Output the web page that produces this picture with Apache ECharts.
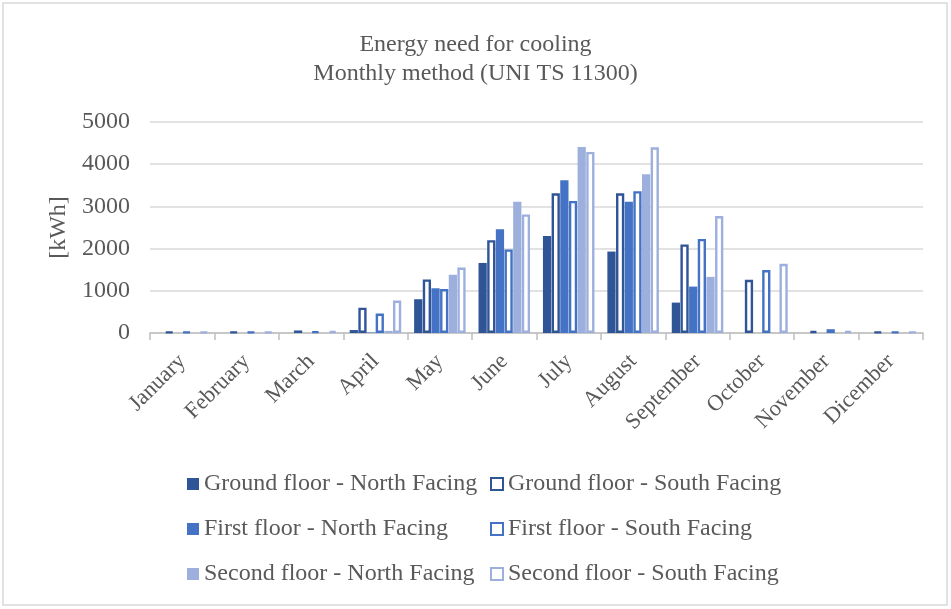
<!DOCTYPE html>
<html>
<head>
<meta charset="utf-8">
<script src="https://cdn.jsdelivr.net/npm/echarts@6/dist/echarts.min.js"></script>
<style>
  html, body { margin: 0; padding: 0; background: #ffffff; }
  #chart { width: 951px; height: 609px; }
</style>
</head>
<body>
<div id="chart"></div>
<script>
// Monthly cooling energy need per floor and orientation [kWh]
const months = ['January', 'February', 'March', 'April', 'May', 'June', 'July',
  'August', 'September', 'October', 'November', 'Dicember'];
const yTicks = [0, 1000, 2000, 3000, 4000, 5000];

const groundNorth = [0, 0, 0, 70, 800, 1660, 2300, 1930, 720, 0, 0, 0];
const groundSouth = [30, 30, 60, 600, 1270, 2200, 3310, 3310, 2100, 1260, 50, 30];
const firstNorth = [0, 0, 0, 10, 1060, 2460, 3620, 3110, 1100, 0, 0, 0];
const firstSouth = [30, 30, 40, 460, 1040, 1980, 3130, 3360, 2230, 1490, 90, 30];
const secondNorth = [0, 0, 0, 50, 1380, 3110, 4410, 3760, 1330, 0, 0, 0];
const secondSouth = [30, 30, 50, 770, 1550, 2810, 4290, 4400, 2770, 1640, 50, 30];

const FONT = '"Liberation Serif", "Times New Roman", serif';
const TEXT = '#595959';
const C_GROUND = '#2f5597';
const C_FIRST = '#4472c4';
const C_SECOND = '#9db0dd';

const seriesDefs = [
  { name: 'Ground floor - North Facing', data: groundNorth, color: C_GROUND, hollow: false },
  { name: 'Ground floor - South Facing', data: groundSouth, color: C_GROUND, hollow: true },
  { name: 'First floor - North Facing', data: firstNorth, color: C_FIRST, hollow: false },
  { name: 'First floor - South Facing', data: firstSouth, color: C_FIRST, hollow: true },
  { name: 'Second floor - North Facing', data: secondNorth, color: C_SECOND, hollow: false },
  { name: 'Second floor - South Facing', data: secondSouth, color: C_SECOND, hollow: true }
];

function styleOf(d) {
  return d.hollow
    ? { color: '#ffffff', borderColor: d.color, borderWidth: 2.4 }
    : { color: d.color, borderWidth: 0 };
}

// One legend column: north-facing entries on the left, south-facing on the right
function legendCol(defs, left) {
  return {
    orient: 'vertical',
    left: left,
    top: 471,
    padding: 0,
    itemWidth: 12,
    itemHeight: 12,
    itemGap: 19,
    icon: 'rect',
    textStyle: { fontFamily: FONT, fontSize: 24, color: TEXT, lineHeight: 26 },
    data: defs.map(d => ({
      name: d.name,
      icon: 'rect',
      itemStyle: d.hollow
        ? { color: '#ffffff', borderColor: d.color, borderWidth: 2 }
        : { color: d.color, borderWidth: 0 }
    }))
  };
}

const chart = echarts.init(document.getElementById('chart'));
chart.setOption({
  animation: false,
  backgroundColor: '#ffffff',
  title: {
    text: 'Energy need for cooling\nMonthly method (UNI TS 11300)',
    left: 'center',
    top: 25,
    textStyle: { fontFamily: FONT, fontSize: 24, fontWeight: 'normal', color: TEXT, lineHeight: 29 }
  },
  graphic: [{
    type: 'rect',
    shape: { x: 3, y: 3, width: 944, height: 602 },
    style: { fill: 'none', stroke: '#d9d9d9', lineWidth: 1.5 },
    silent: true
  }],
  legend: [
    legendCol(seriesDefs.filter(d => !d.hollow), 187),
    legendCol(seriesDefs.filter(d => d.hollow), 490)
  ],
  grid: { left: 150, right: 28, top: 122, height: 211 },
  xAxis: {
    type: 'category',
    data: months,
    axisLine: { lineStyle: { color: '#bfbfbf', width: 1.5 } },
    axisTick: { show: true, length: 7, lineStyle: { color: '#bfbfbf', width: 1.5 } },
    axisLabel: { rotate: 45, margin: 25, fontFamily: FONT, fontSize: 22.5, color: TEXT, interval: 0 }
  },
  yAxis: {
    type: 'value',
    min: yTicks[0],
    max: yTicks[yTicks.length - 1],
    interval: yTicks[1] - yTicks[0],
    name: '[kWh]',
    nameLocation: 'middle',
    nameRotate: 90,
    nameGap: 77,
    nameTextStyle: { fontFamily: FONT, fontSize: 24, color: TEXT },
    axisLine: { show: false },
    axisTick: { show: false },
    axisLabel: { margin: 20, fontFamily: FONT, fontSize: 24, color: TEXT, formatter: v => String(v) },
    splitLine: { lineStyle: { color: '#d9d9d9', width: 1.5 } }
  },
  series: seriesDefs.map(d => ({
    type: 'bar',
    name: d.name,
    data: d.data,
    barGap: '5%',
    barCategoryGap: '20%',
    itemStyle: styleOf(d),
    emphasis: { disabled: true }
  }))
});
</script>
</body>
</html>
